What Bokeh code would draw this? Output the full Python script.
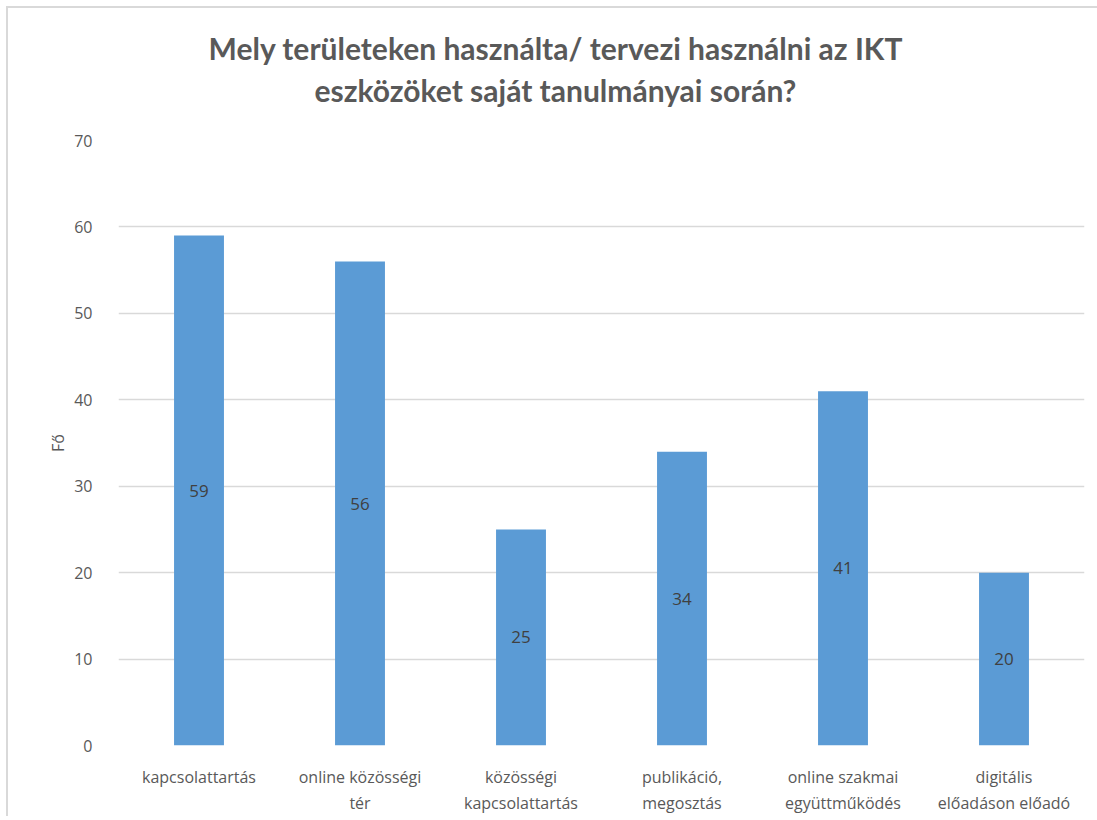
from bokeh.plotting import figure
from bokeh.models import ColumnDataSource, LabelSet, Range1d, FixedTicker, Div
from bokeh.layouts import column
from bokeh.core.properties import value
from bokeh.embed import file_html
from bokeh.resources import INLINE

categories = ["kapcsolattartás", "online közösségi\ntér", "közösségi\nkapcsolattartás",
              "publikáció,\nmegosztás", "online szakmai\negyüttműködés", "digitális\nelőadáson előadó"]
values = [59, 56, 25, 34, 41, 20]
y_ticks = [0, 10, 20, 30, 40, 50, 60, 70]
title_lines = ["Mely területeken használta/ tervezi használni az IKT",
               "eszközöket saját tanulmányai során?"]

src = ColumnDataSource(dict(cat=categories, val=values, mid=[v / 2 for v in values],
                            lab=[str(v) for v in values]))

W = 1085
title = Div(text="<br>".join(title_lines), width=W, height=112,
            styles={"font-family": "Lato", "font-size": "30px", "font-weight": "bold",
                    "color": "#595959", "text-align": "center", "line-height": "42px",
                    "padding-top": "14px", "box-sizing": "border-box", "width": f"{W}px"})

p = figure(x_range=categories, y_range=Range1d(0, 70), width=W, height=686,
           output_backend="svg", toolbar_location=None,
           min_border_left=110, min_border_right=9, min_border_top=10, min_border_bottom=63)
p.title.text = ""

p.vbar(x="cat", top="val", width=0.31, source=src, fill_color="#5B9BD5", line_color=None)

labels = LabelSet(x="cat", y="mid", text="lab", source=src, text_align="center",
                  text_baseline="middle", text_color="#404040", text_font_size=value("17px"),
                  text_font=value("Open Sans"))
p.add_layout(labels)

p.outline_line_color = None
p.xgrid.grid_line_color = None
p.ygrid.grid_line_color = "#d9d9d9"
p.ygrid.grid_line_width = 1.5
p.yaxis.ticker = FixedTicker(ticks=y_ticks)
for ax in (p.xaxis, p.yaxis):
    ax.axis_line_color = None
    ax.major_tick_line_color = None
    ax.minor_tick_line_color = None
    ax.major_label_text_color = "#595959"
    ax.major_label_text_font = "Open Sans"
    ax.major_label_text_font_size = "16px"
p.yaxis.major_label_standoff = 20
p.xaxis.major_label_standoff = 14
p.yaxis.axis_label = "Fő"
p.yaxis.axis_label_text_font = "Open Sans"
p.yaxis.axis_label_text_font_style = "normal"
p.yaxis.axis_label_text_font_size = "16px"
p.yaxis.axis_label_text_color = "#595959"
p.yaxis.axis_label_standoff = 2

layout = column(title, p, spacing=0)
layout.styles = {"border-top": "2px solid #d9d9d9", "border-left": "2px solid #d9d9d9",
                 "margin-top": "6px", "margin-left": "6px"}

open("out.html", "w").write(file_html(layout, INLINE))
